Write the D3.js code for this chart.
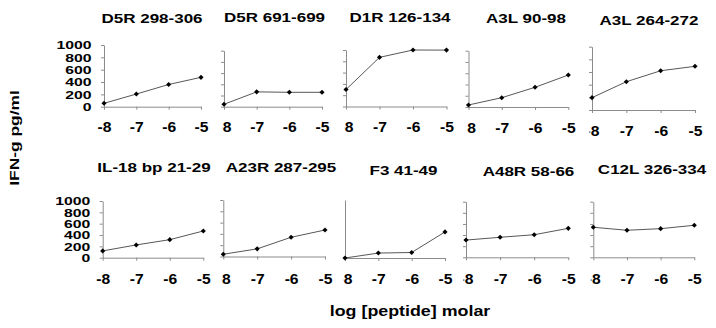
<!DOCTYPE html>
<html>

<head>
  <meta charset="utf-8">
  <title>IFN-g peptide titration</title>
  <script src="https://cdn.jsdelivr.net/npm/d3@7"></script>
  <style>
    body { margin: 0; background: #fff; }
    text { font-family: 'Liberation Sans', Arial, sans-serif; font-weight: bold; fill: #000; }
  </style>
</head>

<body>
  <svg width="716" height="328" id="mainsvg"></svg>
  <script>
    const svg = d3.select('#mainsvg');

    // data
    const titles = ['D5R 298-306', 'D5R 691-699', 'D1R 126-134', 'A3L 90-98', 'A3L 264-272',
      'IL-18 bp 21-29', 'A23R 287-295', 'F3 41-49', 'A48R 58-66', 'C12L 326-334'];
    const concentrations = [-8, -7, -6, -5];
    const yTickValues = [0, 200, 400, 600, 800, 1000];
    const d5r298 = [55, 205, 360, 476];
    const d5r691 = [43, 265, 257, 257];
    const d1r126 = [300, 870, 1000, 998];
    const a3l90 = [36, 165, 350, 568];
    const a3l264 = [195, 447, 620, 690];
    const il18bp = [120, 225, 318, 471];
    const a23r = [40, 135, 340, 469];
    const f3 = [0, 85, 95, 450];
    const a48r = [310, 360, 406, 521];
    const c12l = [540, 486, 515, 576];
    const series = [d5r298, d5r691, d1r126, a3l90, a3l264, il18bp, a23r, f3, a48r, c12l];

    // frame of each pasted sub-plot (they are not quite aligned in the original)
    const panels = [
      { left: 104, right: 201, top: 45, bottom: 106.7, tx: 152, ty: 18, labelY: 127, clip: null, yLabels: true, yTicks: true },
      { left: 224, right: 322, top: 50.7, bottom: 106.7, tx: 274.5, ty: 17.5, labelY: 127, clip: 222.5, yLabels: false, yTicks: true },
      { left: 346, right: 446.5, top: 50, bottom: 106.5, tx: 400, ty: 17, labelY: 127, clip: 344.5, yLabels: false, yTicks: true },
      { left: 468.5, right: 568.3, top: 50.7, bottom: 107, tx: 526, ty: 18.3, labelY: 127.5, clip: 467, yLabels: false, yTicks: true },
      { left: 592, right: 695, top: 46.7, bottom: 110, tx: 649, ty: 20, labelY: 130.5, clip: 589.5, yLabels: false, yTicks: true },
      { left: 102.7, right: 203.3, top: 201, bottom: 257.7, tx: 154, ty: 167.3, labelY: 279.3, clip: null, yLabels: true, yTicks: true },
      { left: 223.3, right: 325, top: 200, bottom: 256.5, tx: 281, ty: 167, labelY: 279.3, clip: 221.8, yLabels: false, yTicks: true },
      { left: 345, right: 445, top: 200, bottom: 258, tx: 403.5, ty: 170.7, labelY: 279.3, clip: 343.5, yLabels: false, yTicks: false },
      { left: 466, right: 568.3, top: 201.7, bottom: 257.3, tx: 528.5, ty: 171.7, labelY: 279.3, clip: 463.5, yLabels: false, yTicks: true },
      { left: 593.3, right: 694.3, top: 201.7, bottom: 257.3, tx: 652, ty: 169, labelY: 279.3, clip: 590.8, yLabels: false, yTicks: true }
    ];

    const axisColor = '#8c8c8c';
    const defs = svg.append('defs');

    // the scanned figure is stretched sideways, so text gets a horizontal scale
    function stretchedText(parent, str, x, y, size, sx, rotate = 0) {
      return parent.append('text')
        .attr('transform', `translate(${x},${y}) rotate(${rotate}) scale(${sx},1)`)
        .attr('text-anchor', 'middle')
        .attr('dy', '0.36em')
        .style('font-size', size + 'px')
        .text(str);
    }

    panels.forEach((p, i) => {
      const g = svg.append('g').attr('class', 'panel');
      const x = d3.scaleLinear().domain([-8, -5]).range([p.left, p.right]);
      const y = d3.scaleLinear().domain([0, 1000]).range([p.bottom, p.top]);

      stretchedText(g, titles[i], p.tx, p.ty, 12.5, 1.36);

      // y axis
      const yAxis = g.append('g')
        .attr('transform', `translate(${p.left},0)`)
        .call(d3.axisLeft(y).tickValues(yTickValues)
          .tickSize(p.yTicks ? 3 : 0).tickSizeOuter(0)
          .tickFormat(p.yLabels ? d => d : ''));
      yAxis.selectAll('path, line').attr('stroke', axisColor);
      yAxis.selectAll('text')
        .attr('x', 0).attr('dy', '0.36em')
        .attr('transform', 'translate(-12.5,0) scale(1.5,1)')
        .attr('fill', '#000')
        .style('font-size', '10.5px');

      // x axis; left part of the "-8" label is cut off by the neighbouring panel
      const xAxis = g.append('g')
        .attr('transform', `translate(0,${p.bottom})`)
        .call(d3.axisBottom(x).tickValues(concentrations)
          .tickSize(3).tickSizeOuter(0).tickFormat(d => String(d)));
      xAxis.selectAll('path, line').attr('stroke', axisColor);
      xAxis.selectAll('text')
        .attr('y', 0).attr('dy', '0.36em')
        .attr('transform', `translate(0,${p.labelY - p.bottom}) scale(1.12,1)`)
        .attr('fill', '#000')
        .style('font-size', '14px');
      if (p.clip !== null) {
        defs.append('clipPath').attr('id', 'clip' + i)
          .append('rect').attr('x', p.clip).attr('y', -6).attr('width', 200).attr('height', 40);
        xAxis.attr('clip-path', `url(#clip${i})`);
      }

      const pts = concentrations.map((c, k) => [c, series[i][k]]);
      g.append('path')
        .datum(pts)
        .attr('fill', 'none')
        .attr('stroke', '#444')
        .attr('stroke-width', 0.9)
        .attr('d', d3.line().x(d => x(d[0])).y(d => y(d[1])));

      g.selectAll('.marker').data(pts).join('path')
        .attr('class', 'marker')
        .attr('transform', d => `translate(${x(d[0])},${y(d[1])}) rotate(45)`)
        .attr('d', d3.symbol(d3.symbolSquare, 13))
        .attr('fill', '#000');
    });

    stretchedText(svg, 'IFN-g pg/ml', 15, 138, 12, 1.45, -90);
    stretchedText(svg, 'log [peptide] molar', 410, 310.7, 15, 1.19);
  </script>
</body>

</html>
